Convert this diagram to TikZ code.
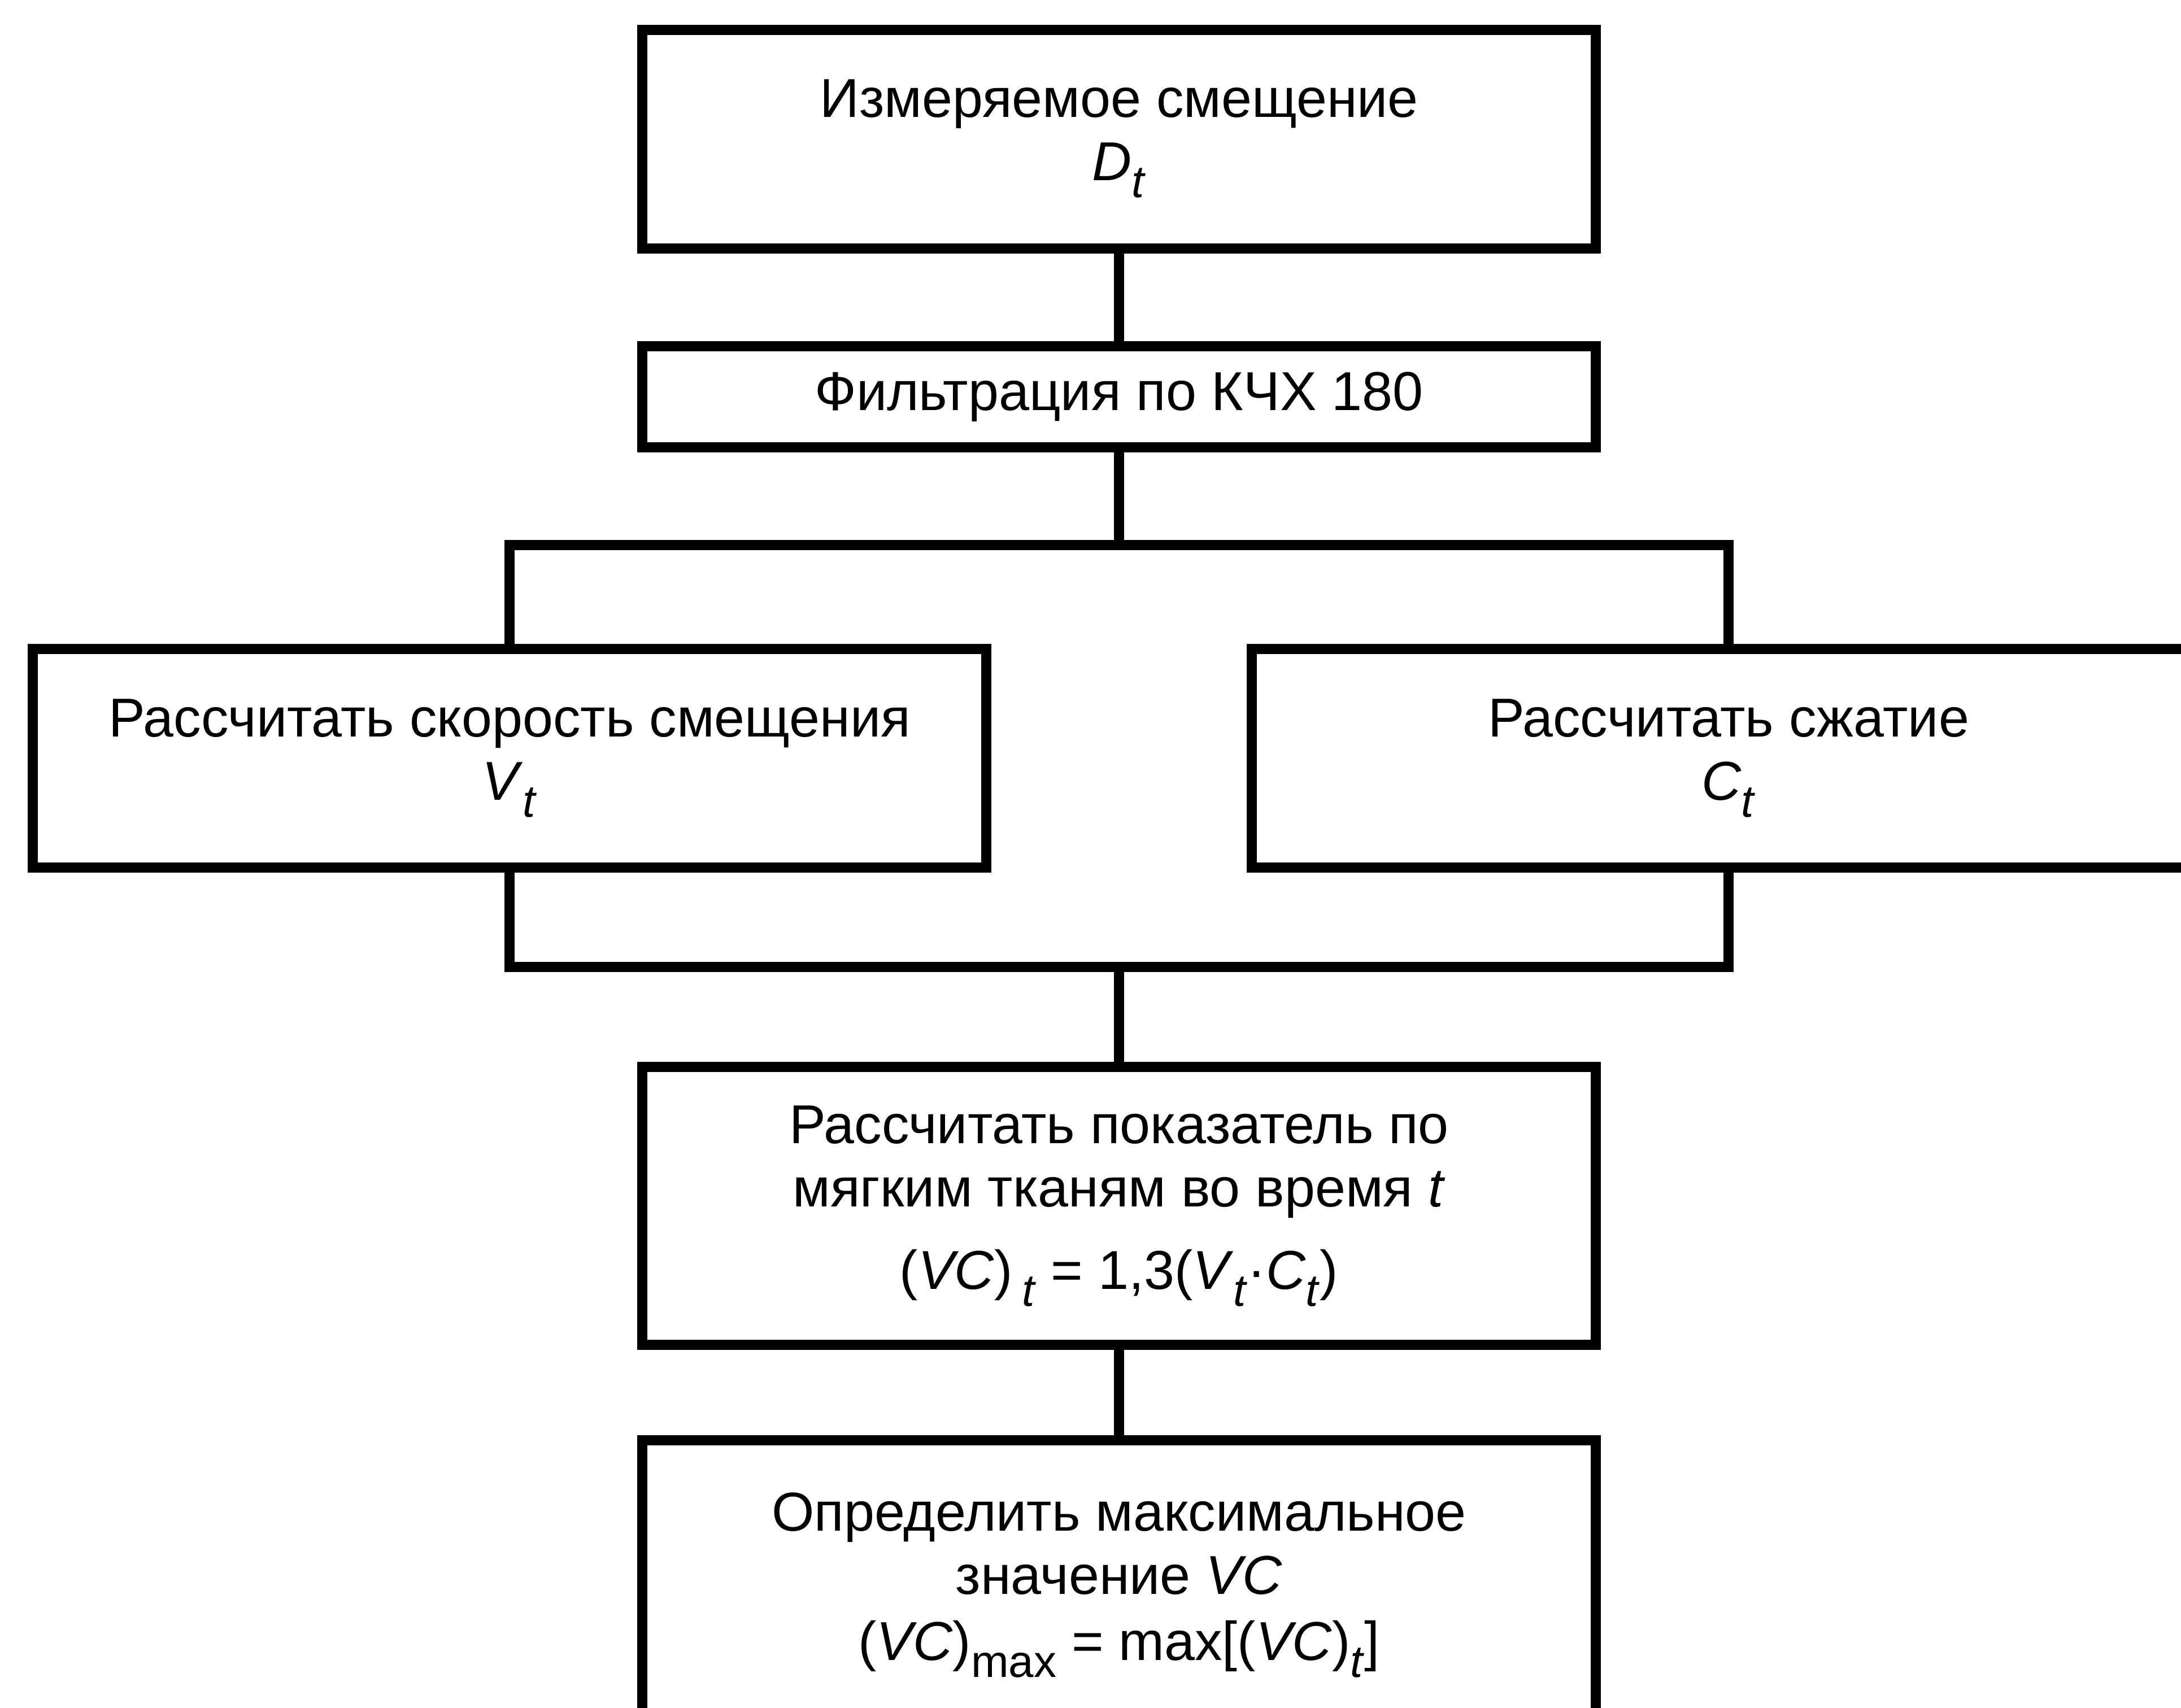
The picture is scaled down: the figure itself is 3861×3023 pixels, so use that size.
\documentclass[tikz,border=0pt]{standalone}
\usepackage{fontspec}
\setmainfont{Liberation Sans}
\newcommand{\mysub}[1]{\raisebox{-3pt}{\fontsize{8}{8}\selectfont #1}}
\begin{document}
\begin{tikzpicture}[x=0.1pt,y=-0.1pt,
  boxnode/.style={draw, line width=1.8pt, minimum width=168.8pt, align=center,
    inner sep=0pt, font=\fontsize{9.7}{11.2}\selectfont},
  conn/.style={line width=1.8pt}]
\useasboundingbox (0,0) rectangle (3861,3023);
\clip (0,0) rectangle (3861,3023);
\node[boxnode, minimum height=38.7pt] (b1) at (1981,246) {Измеряемое смещение\\\textit{D}\mysub{\textit{t}}};
\node[boxnode, minimum height=17.9pt] (b2) at (1981,702.5) {Фильтрация по КЧХ 180};
\node[boxnode, minimum height=38.7pt] (b3) at (902,1342.5) {Рассчитать скорость смещения\\\textit{V}\mysub{\textit{t}}};
\node[boxnode, minimum height=38.7pt] (b4) at (3060,1342.5) {Рассчитать сжатие\\\textit{C}\mysub{\textit{t}}};
\node[boxnode, minimum height=49.2pt] (b5) at (1981,2135) {Рассчитать показатель по\\мягким тканям во время \textit{t}\\[3.4pt](\textit{VC})\,\mysub{\textit{t}} = 1,3(\textit{V}\mysub{\textit{t}}·\textit{C}\mysub{\textit{t}})};
\node[boxnode, minimum height=51.2pt] (b6) at (1981,2806) {Определить максимальное\\значение \textit{VC}\\[0.5pt](\textit{VC})\mysub{max} = max[(\textit{VC})\mysub{\textit{t}}]};
\coordinate (j1) at (1981,965);
\coordinate (j2) at (1981,1712);
\draw[conn] (b1.south) -- (b2.north);
\draw[conn] (b2.south) -- (j1);
\draw[conn] (b3.north) |- (j1) -| (b4.north);
\draw[conn] (b3.south) |- (j2) -| (b4.south);
\draw[conn] (j2) -- (b5.north);
\draw[conn] (b5.south) -- (b6.north);
\end{tikzpicture}
\end{document}
